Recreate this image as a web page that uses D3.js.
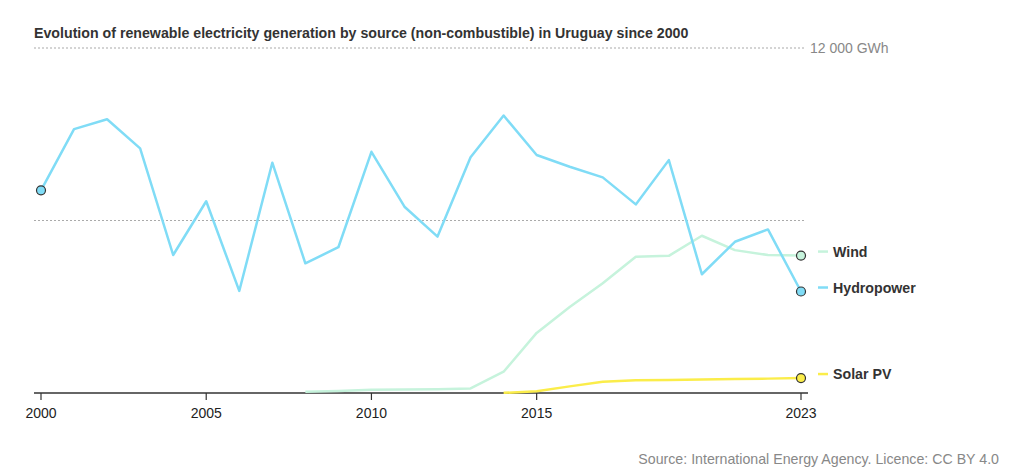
<!DOCTYPE html>
<html>
<head>
<meta charset="utf-8">
<script src="https://cdn.jsdelivr.net/npm/d3@7"></script>
<style>
  body { margin: 0; background: #fff; }
  svg { font-family: "Liberation Sans", Arial, sans-serif; }
</style>
</head>
<body>
<svg id="chart" width="1024" height="476"></svg>
<script>
/*global d3*/
var years = d3.range(2000, 2024);

var hydro = [7050, 9180, 9520, 8510, 4800, 6670, 3550, 8010, 4510, 5070, 8390, 6480,
   5440, 8200, 9650, 8280, 7870, 7500, 6560, 8100, 4130, 5260, 5690, 3530];
var wind = [null, null, null, null, null, null, null, null, 40, 70, 110, 120,
   130, 160, 740, 2090, 2990, 3820, 4740, 4770, 5470, 4970, 4800, 4780];
var solar = [null, null, null, null, null, null, null, null, null, null, null, null,
   null, null, 5, 60, 230, 390, 440, 450, 470, 485, 500, 520];

var seriesNames = ["Wind", "Hydropower", "Solar PV"];
var seriesColors = ["#c6f3dc", "#80dcf6", "#fbed4a"];
var xTicks = [2000, 2005, 2010, 2015, 2023];
var gridValues = [6000, 12000];

(function () {
   "use strict";

   var svg = d3.select("#chart"),
      x = d3.scaleLinear().domain([2000, 2023]).range([41, 801]),
      y = d3.scaleLinear().domain([0, 12000]).range([393, 48]),
      seriesData = [wind, hydro, solar],
      line = d3.line()
         .defined(function (d) { return d[1] !== null; })
         .x(function (d) { return x(d[0]); })
         .y(function (d) { return y(d[1]); });

   //title
   svg.append("text")
      .attr("x", 34).attr("y", 38)
      .attr("fill", "#333")
      .attr("font-size", 14.2)
      .attr("font-weight", "bold")
      .text("Evolution of renewable electricity generation by source (non-combustible) in Uruguay since 2000");

   //grid lines
   svg.selectAll(".grid").data(gridValues).enter().append("line")
      .attr("x1", 34).attr("x2", 806)
      .attr("y1", function (d) { return y(d); })
      .attr("y2", function (d) { return y(d); })
      .attr("stroke", "#aaa")
      .attr("stroke-width", 1.2)
      .attr("stroke-dasharray", "2,2");

   svg.append("text")
      .attr("x", 810).attr("y", y(12000) + 5)
      .attr("fill", "#888")
      .attr("font-size", 14)
      .text("12 000 GWh");

   //x axis
   svg.append("line")
      .attr("x1", 34).attr("x2", 808)
      .attr("y1", y(0)).attr("y2", y(0))
      .attr("stroke", "#333").attr("stroke-width", 1.5);

   var ticks = svg.selectAll(".tick").data(xTicks).enter().append("g")
      .attr("transform", function (d) { return "translate(" + x(d) + "," + y(0) + ")"; });
   ticks.append("line").attr("y2", 7).attr("stroke", "#333").attr("stroke-width", 1.2);
   ticks.append("text")
      .attr("y", 25)
      .attr("text-anchor", "middle")
      .attr("fill", "#222")
      .attr("font-size", 14)
      .text(function (d) { return d; });

   //lines
   seriesData.forEach(function (vals, i) {
      var pts = years.map(function (yr, j) { return [yr, vals[j]]; });
      svg.append("path")
         .datum(pts)
         .attr("fill", "none")
         .attr("stroke", seriesColors[i])
         .attr("stroke-width", 2.5)
         .attr("stroke-linejoin", "round")
         .attr("d", line);
   });

   //start dot for hydro
   svg.append("circle")
      .attr("cx", x(2000)).attr("cy", y(hydro[0])).attr("r", 4.5)
      .attr("fill", seriesColors[1]).attr("stroke", "#333").attr("stroke-width", 1.2);

   //end dots + labels
   seriesData.forEach(function (vals, i) {
      var last = vals[vals.length - 1],
         cy = y(last),
         ly = cy - 4;
      svg.append("circle")
         .attr("cx", x(2023)).attr("cy", cy).attr("r", 4.5)
         .attr("fill", seriesColors[i]).attr("stroke", "#333").attr("stroke-width", 1.2);
      svg.append("line")
         .attr("x1", 818).attr("x2", 828)
         .attr("y1", ly).attr("y2", ly)
         .attr("stroke", seriesColors[i]).attr("stroke-width", 2.5);
      svg.append("text")
         .attr("x", 833).attr("y", ly + 5)
         .attr("fill", "#333")
         .attr("font-size", 14.2)
         .attr("font-weight", "bold")
         .text(seriesNames[i]);
   });

   //source
   svg.append("text")
      .attr("x", 999).attr("y", 464)
      .attr("text-anchor", "end")
      .attr("fill", "#888")
      .attr("font-size", 14.2)
      .text("Source: International Energy Agency. Licence: CC BY 4.0");
}());
</script>
</body>
</html>
